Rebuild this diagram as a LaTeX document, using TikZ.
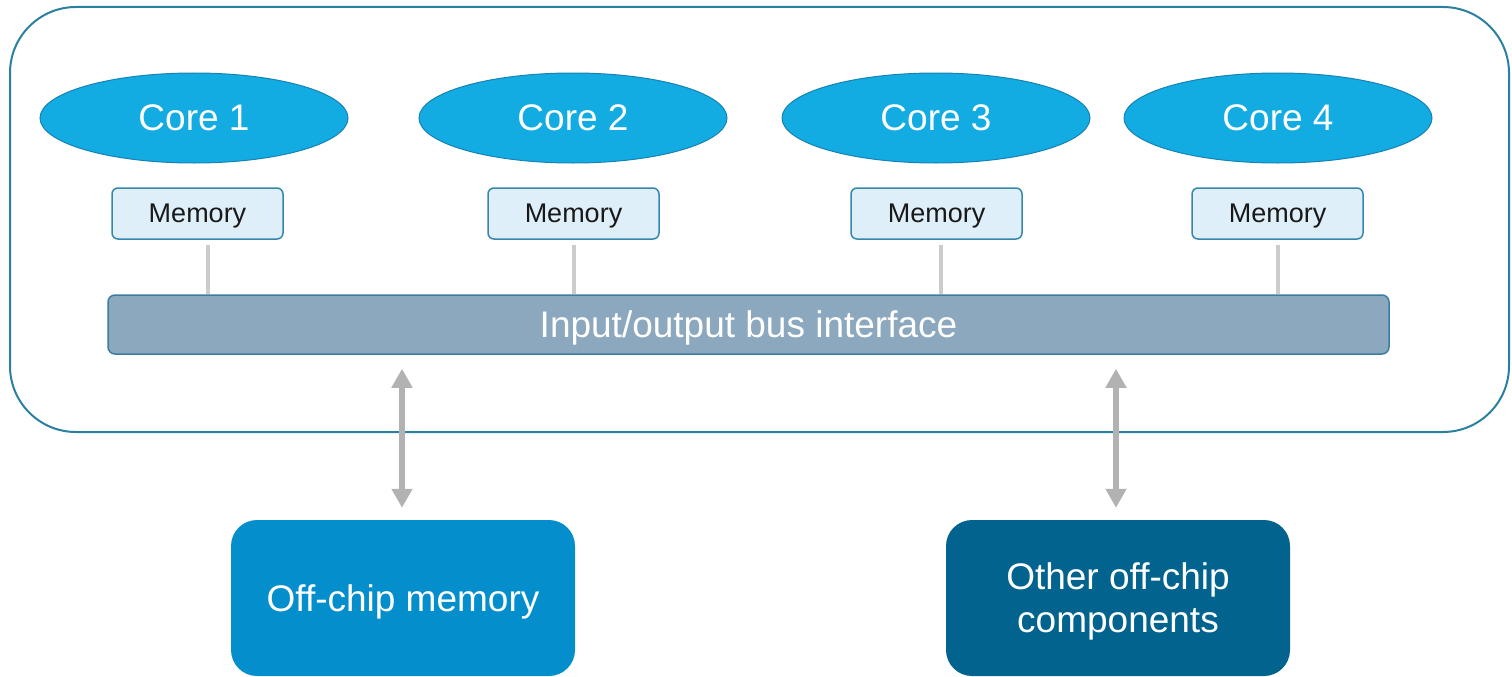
\documentclass[tikz,border=0pt]{standalone}
\usepackage{fontspec}
\setmainfont{Liberation Sans}
\usetikzlibrary{shapes.geometric,arrows.meta,calc}

\definecolor{chipedge}{RGB}{42,128,160}
\definecolor{corefill}{RGB}{18,172,226}
\definecolor{coreedge}{RGB}{24,130,180}
\definecolor{memfill}{RGB}{222,239,250}
\definecolor{memedge}{RGB}{55,135,170}
\definecolor{busfill}{RGB}{139,168,190}
\definecolor{busedge}{RGB}{60,125,160}
\definecolor{linkgray}{RGB}{204,204,204}
\definecolor{arrowgray}{RGB}{178,178,178}
\definecolor{offmemfill}{RGB}{4,143,204}
\definecolor{otherfill}{RGB}{1,99,142}

\tikzset{
  chip/.style={draw=chipedge, line width=2pt, rounded corners=66pt},
  core/.style={ellipse, draw=coreedge, line width=1pt, fill=corefill,
    minimum width=308pt, minimum height=90pt, inner sep=0pt,
    text=white, font=\fontsize{37}{40}\selectfont},
  membox/.style={rectangle, draw=memedge, line width=1.5pt, fill=memfill,
    rounded corners=6pt, minimum width=171pt, minimum height=51pt,
    inner sep=0pt, text depth=0pt, text=black!90,
    font=\fontsize{27}{30}\selectfont},
  busbox/.style={rectangle, draw=busedge, line width=1.5pt, fill=busfill,
    rounded corners=7pt, minimum width=1281pt, minimum height=59pt,
    inner sep=0pt, text depth=0pt, text=white,
    font=\fontsize{37}{40}\selectfont},
  offbox/.style={rectangle, rounded corners=26pt, minimum width=344pt,
    minimum height=156pt, inner sep=0pt, text depth=0pt, text=white,
    align=center, font=\fontsize{37}{43}\selectfont},
  link/.style={draw=linkgray, line width=4pt},
  biarrow/.style={draw=arrowgray, line width=6pt,
    {Triangle[width=20pt,length=19pt]}-{Triangle[width=20pt,length=19pt]}},
}

\begin{document}
\begin{tikzpicture}[x=1pt,y=-1pt]
  \useasboundingbox (0,0) rectangle (1512,677);

  % chip outline
  \draw[chip] (10,7) rectangle (1509,432);

  % cores
  \node[core] (core1) at (194,118) {Core 1};
  \node[core] (core2) at (573,118) {Core 2};
  \node[core] (core3) at (936,118) {Core 3};
  \node[core] (core4) at (1278,118) {Core 4};

  % local memories
  \node[membox] (mem1) at (197.5,213.5) {Memory};
  \node[membox] (mem2) at (573.5,213.5) {Memory};
  \node[membox] (mem3) at (936.5,213.5) {Memory};
  \node[membox] (mem4) at (1277.5,213.5) {Memory};

  % shared bus
  \node[busbox] (bus) at (748.5,324.5) {Input/output bus interface};

  % memory-to-bus links
  \draw[link] ([xshift=10pt,yshift=-5pt]mem1.south) -- ([xshift=10pt]mem1.south |- bus.north);
  \draw[link] ([yshift=-5pt]mem2.south) -- (mem2.south |- bus.north);
  \draw[link] ([xshift=4pt,yshift=-5pt]mem3.south) -- ([xshift=4pt]mem3.south |- bus.north);
  \draw[link] ([yshift=-5pt]mem4.south) -- (mem4.south |- bus.north);

  % off-chip parts
  \node[offbox, fill=offmemfill] (offmem) at (403,598) {Off-chip memory};
  \node[offbox, fill=otherfill] (other) at (1118,598) {Other off-chip\\components};

  % bus-to-off-chip arrows
  \draw[biarrow, shorten <=12pt, shorten >=14pt]
    ([xshift=-1pt]offmem.north) -- ([xshift=-1pt]offmem.north |- bus.south);
  \draw[biarrow, shorten <=12pt, shorten >=14pt]
    ([xshift=-2pt]other.north) -- ([xshift=-2pt]other.north |- bus.south);
\end{tikzpicture}
\end{document}
